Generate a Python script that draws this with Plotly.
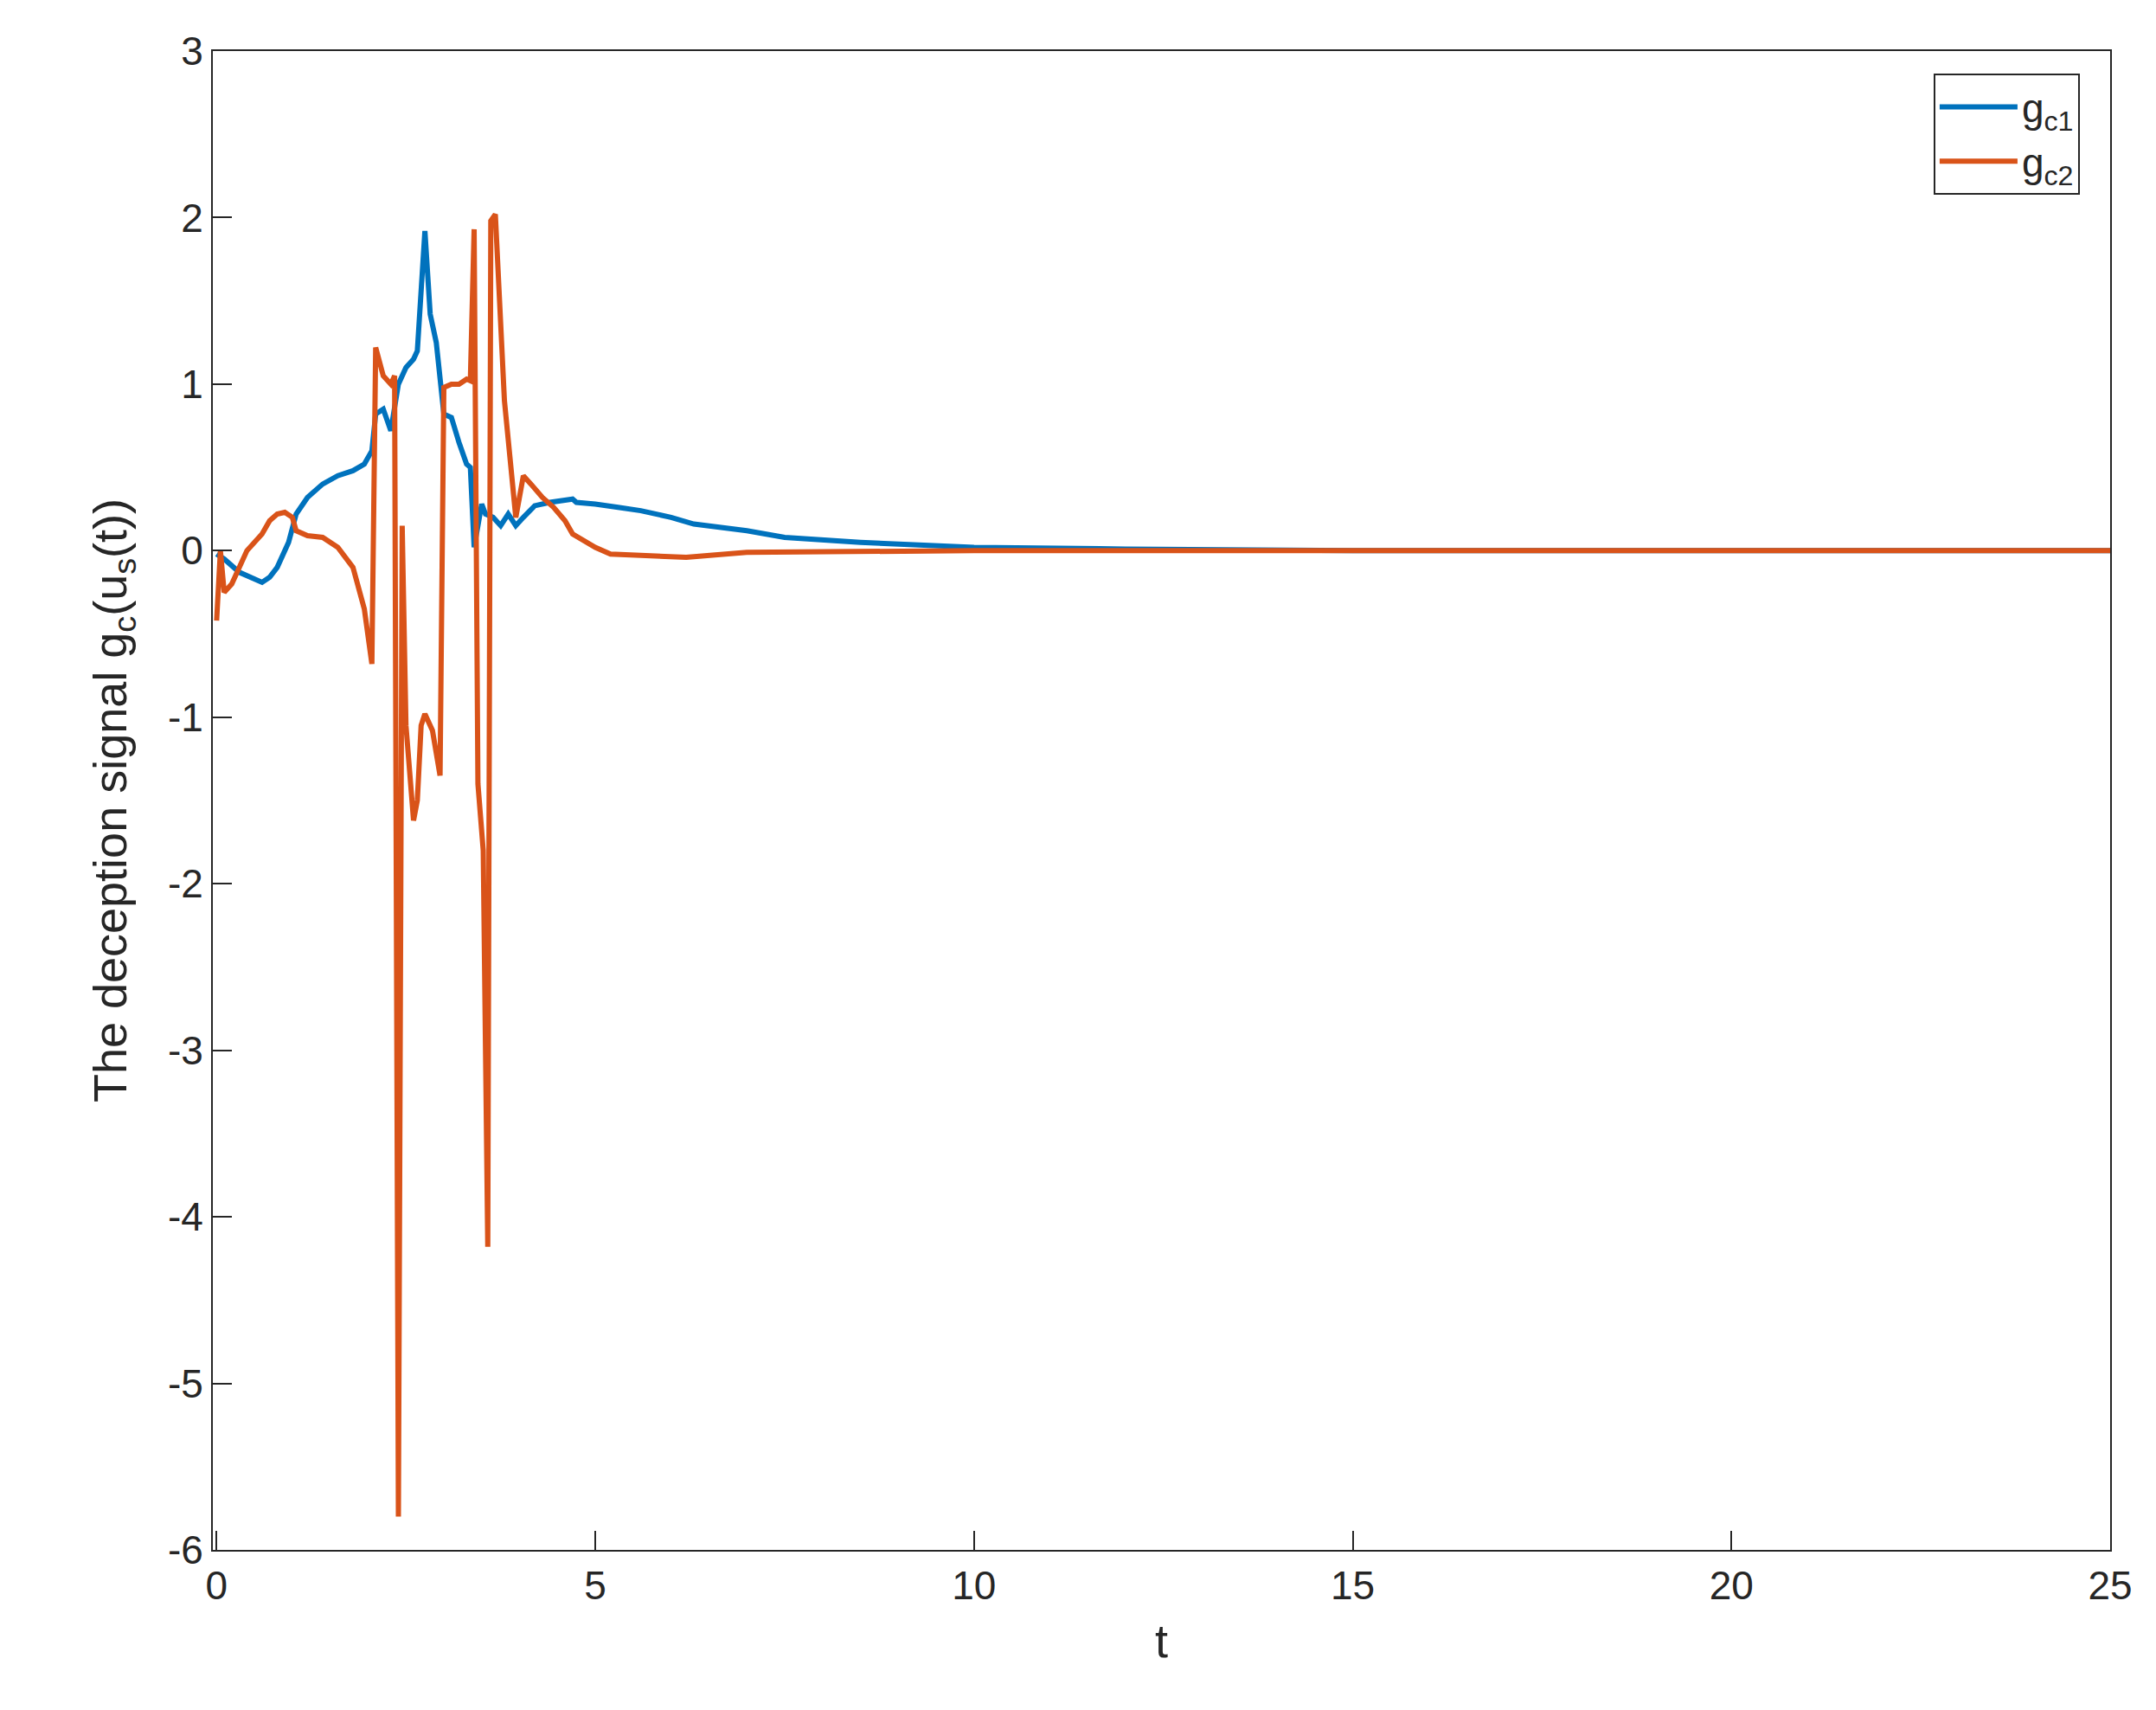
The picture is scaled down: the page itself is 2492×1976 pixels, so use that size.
import plotly.graph_objects as go

t1 = [0, 0.1, 0.3, 0.5, 0.6, 0.7, 0.8, 0.95, 1.05, 1.2, 1.4, 1.6, 1.8, 1.95, 2.05, 2.1, 2.2, 2.3,
      2.4, 2.5, 2.6, 2.65, 2.7, 2.75, 2.82, 2.9, 3.0, 3.1, 3.2, 3.3, 3.35, 3.4, 3.5, 3.55, 3.65,
      3.75, 3.85, 3.95, 4.05, 4.2, 4.4, 4.6, 4.7, 4.75, 5.0, 5.3, 5.6, 6.0, 6.3, 7.0, 7.5, 8.5,
      10, 12, 15, 25]
gc1 = [-0.02, -0.05, -0.13, -0.17, -0.19, -0.16, -0.1, 0.05, 0.22, 0.32, 0.4, 0.45, 0.48, 0.52,
       0.6, 0.82, 0.85, 0.72, 1.0, 1.1, 1.15, 1.2, 1.55, 1.92, 1.42, 1.25, 0.82, 0.8, 0.65, 0.52,
       0.5, 0.02, 0.28, 0.22, 0.2, 0.15, 0.22, 0.15, 0.2, 0.27, 0.29, 0.3, 0.31, 0.29, 0.28, 0.26,
       0.24, 0.2, 0.16, 0.12, 0.08, 0.05, 0.02, 0.01, 0.0, 0.0]

t2 = [0, 0.05, 0.1, 0.2, 0.4, 0.6, 0.7, 0.8, 0.9, 1.0, 1.05, 1.2, 1.4, 1.6, 1.8, 1.95, 2.05, 2.1,
      2.2, 2.3, 2.35, 2.4, 2.45, 2.5, 2.6, 2.65, 2.7, 2.75, 2.85, 2.95, 3.0, 3.1, 3.2, 3.3, 3.35,
      3.4, 3.45, 3.52, 3.58, 3.62, 3.68, 3.8, 3.95, 4.05, 4.15, 4.3, 4.45, 4.6, 4.7, 5.0, 5.2,
      6.2, 7.0, 10, 25]
gc2 = [-0.42, 0.0, -0.25, -0.2, 0.0, 0.1, 0.18, 0.22, 0.23, 0.2, 0.12, 0.09, 0.08, 0.02, -0.1,
       -0.35, -0.68, 1.22, 1.05, 1.0, 1.05, -5.8, 0.15, -1.05, -1.62, -1.5, -1.05, -0.98, -1.08,
       -1.35, 0.98, 1.0, 1.0, 1.03, 1.02, 1.93, -1.4, -1.8, -4.18, 1.98, 2.02, 0.9, 0.2, 0.45,
       0.4, 0.32, 0.26, 0.18, 0.1, 0.02, -0.02, -0.04, -0.01, 0.0, 0.0]

y_ticks = [-6, -5, -4, -3, -2, -1, 0, 1, 2, 3]
x_ticks = [0, 5, 10, 15, 20, 25]

fig = go.Figure()
fig.add_trace(go.Scatter(x=t1, y=gc1, mode="lines", name="g<sub>c1</sub>",
                         line=dict(color="#0072BD", width=6)))
fig.add_trace(go.Scatter(x=t2, y=gc2, mode="lines", name="g<sub>c2</sub>",
                         line=dict(color="#D95319", width=6)))

axis = dict(showline=True, mirror=True, linecolor="#262626", linewidth=2, ticks="inside",
            ticklen=22, tickwidth=2, tickcolor="#262626", showgrid=False, zeroline=False,
            tickfont=dict(size=46, color="#262626"))
fig.update_xaxes(range=[-0.05, 25], tickvals=x_ticks,
                 title=dict(text="t", font=dict(size=54, color="#262626"), standoff=20), **axis)
fig.update_yaxes(range=[-6, 3], tickvals=y_ticks, ticktext=[str(v) for v in y_ticks],
                 title=dict(text="The deception signal g<sub>c</sub>(u<sub>s</sub>(t))",
                            font=dict(size=54, color="#262626"), standoff=30), **axis)
fig.update_layout(
    width=2492, height=1976, paper_bgcolor="white", plot_bgcolor="white",
    font=dict(family="Liberation Sans, Arial, sans-serif"),
    margin=dict(l=238, r=61, t=51, b=193),
    legend=dict(x=0.984, y=0.985, xanchor="right", yanchor="top", bordercolor="#262626",
                borderwidth=2, bgcolor="white", itemwidth=90,
                font=dict(size=46, color="#262626")),
)
fig.write_html("out.html")
